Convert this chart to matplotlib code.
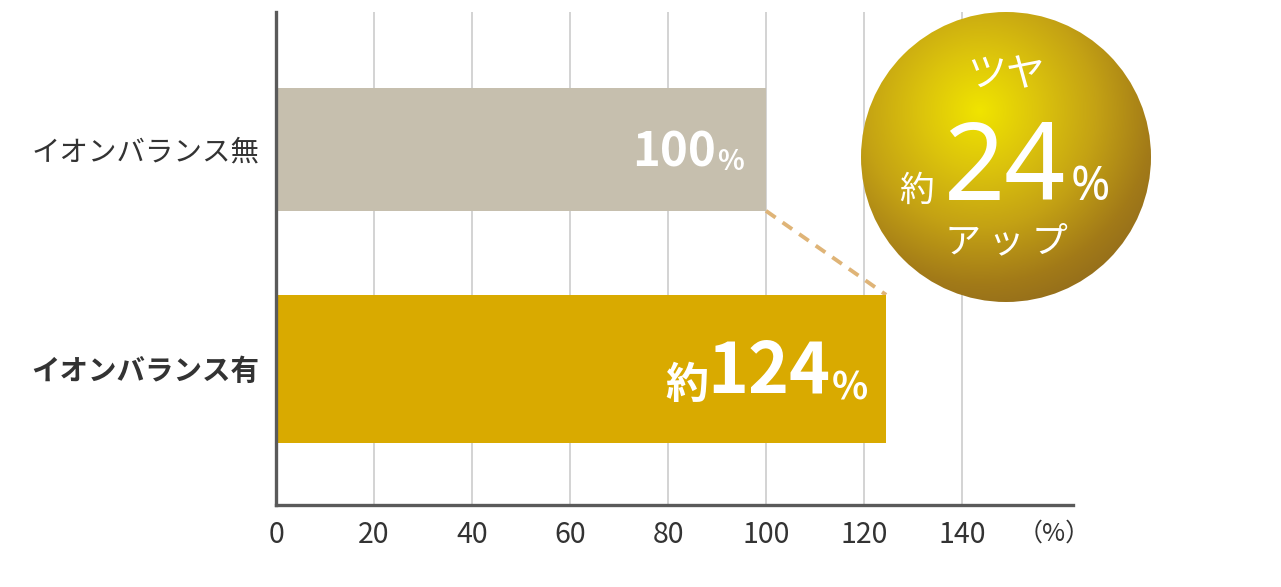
import matplotlib.pyplot as plt
import numpy as np
from matplotlib.colors import LinearSegmentedColormap
from matplotlib.patches import Circle

plt.rcParams["font.family"] = ["Noto Sans CJK JP", "DejaVu Sans"]

categories = ["イオンバランス無", "イオンバランス有"]
values = [100, 124.5]
value_prefix = ["", "約"]
value_text = ["100", "124"]
bar_colors = ["#c6bfae", "#d9aa00"]
bar_heights = [0.56, 0.675]
xticks = [0, 20, 40, 60, 80, 100, 120, 140]
badge_lines = ["ツヤ", "約", "24", "%", "アップ"]

W, H = 1281, 587
fig = plt.figure(figsize=(W / 100, H / 100), dpi=100)
ax = fig.add_axes([276 / W, 1 - 505 / H, (1073 - 276) / W, (505 - 12) / H])

ypos = np.arange(len(categories))
ax.barh(ypos, values, height=bar_heights, color=bar_colors, zorder=2)
ax.set_xlim(0, 162.65)
ax.set_ylim(1.62, -0.626)

ax.set_xticks(xticks)
ax.set_xticklabels([str(t) for t in xticks], fontsize=20.5, color="#333333")
ax.set_yticks(ypos)
ax.set_yticklabels(categories, fontsize=20.5, color="#333333")
ax.get_yticklabels()[1].set_fontweight("bold")
ax.tick_params(axis="x", length=0, pad=11)
ax.tick_params(axis="y", length=0, pad=12)
ax.xaxis.grid(True, color="#c8c8c8", linewidth=1.1, zorder=0)
ax.set_axisbelow(True)
for side in ["top", "right"]:
    ax.spines[side].set_visible(False)
for side in ["left", "bottom"]:
    ax.spines[side].set_color("#5a5a5a")
    ax.spines[side].set_linewidth(2.4)
    ax.spines[side].set_zorder(3)

ax.text(1.022, -0.057, "（%）", transform=ax.transAxes, ha="right", va="center",
        fontsize=18, color="#333333")

# dashed connector between bar ends
ax.plot([values[0], values[1]],
        [ypos[0] + bar_heights[0] / 2, ypos[1] - bar_heights[1] / 2],
        linestyle=(0, (3, 2.2)), color="#dfb477", linewidth=2.8, zorder=1)

# value labels inside bars
big = [34, 50]
small = [20, 27]
prefix_size = [0, 31]
pad = [-16, -13]
for i, v in enumerate(values):
    pct = ax.annotate("%", xy=(v, ypos[i]), xytext=(pad[i], -big[i] * 0.44),
                      textcoords="offset points", ha="right", va="baseline",
                      fontsize=small[i], fontweight="bold", color="white", zorder=4)
    num = ax.annotate(value_text[i], xy=(0, 0), xycoords=pct, xytext=(-1, 0),
                      textcoords="offset points", ha="right", va="bottom",
                      fontsize=big[i], fontweight="bold", color="white", zorder=4)
    if value_prefix[i]:
        ax.annotate(value_prefix[i], xy=(0, 0), xycoords=num, xytext=(1, 0),
                    textcoords="offset points", ha="right", va="bottom",
                    fontsize=prefix_size[i], fontweight="bold", color="white", zorder=4)

# gold badge
cx, cy, r = 1006, 157, 145
bx = fig.add_axes([(cx - r) / W, 1 - (cy + r) / H, 2 * r / W, 2 * r / H])
bx.set_xlim(-1, 1)
bx.set_ylim(-1, 1)
bx.axis("off")
gx, gy = np.meshgrid(np.linspace(-1, 1, 400), np.linspace(1, -1, 400))
dist = np.hypot(gx + 0.18, gy - 0.32) / 1.6
gold = LinearSegmentedColormap.from_list(
    "gold", ["#f0e400", "#dcc40c", "#c4a214", "#a27a18", "#87621e"])
img = bx.imshow(dist, extent=(-1, 1, -1, 1), cmap=gold, vmin=0, vmax=1)
clip = Circle((0, 0), 1, transform=bx.transData)
img.set_clip_path(clip)

bx.text(0, 0.566, badge_lines[0], ha="center", va="center", fontsize=28, color="white")
bx.text(-0.62, -0.30, badge_lines[1], ha="center", va="baseline", fontsize=25, color="white")
bx.text(-0.01, -0.30, badge_lines[2], ha="center", va="baseline", fontsize=77, color="white",
        family=["Noto Sans", "DejaVu Sans"])
bx.text(0.58, -0.30, badge_lines[3], ha="center", va="baseline", fontsize=34, color="white",
        family=["Noto Sans", "DejaVu Sans"])
bx.text(0, -0.59, "\u2009".join(badge_lines[4]), ha="center", va="center", fontsize=26,
        color="white", family=["Noto Sans CJK JP", "DejaVu Sans"])

fig.savefig("out.png", dpi=100, facecolor="white")
